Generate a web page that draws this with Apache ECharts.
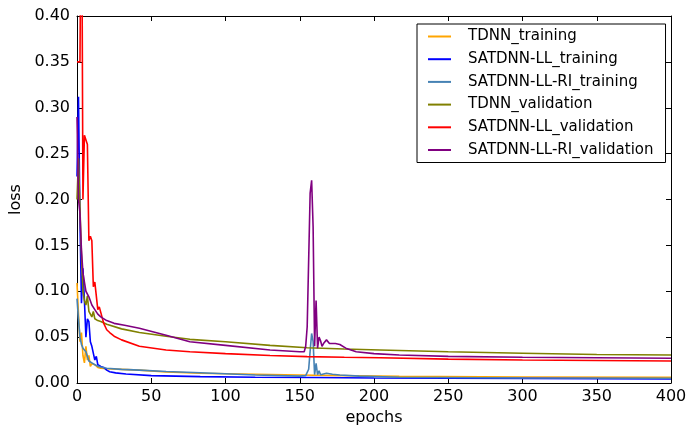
<!DOCTYPE html>
<html>
<head>
<meta charset="utf-8">
<script src="https://cdn.jsdelivr.net/npm/echarts@6/dist/echarts.min.js"></script>
<style>
html,body{margin:0;padding:0;background:#fff;}
#chart{width:689px;height:427px;}
</style>
</head>
<body>
<div id="chart"></div>
<script>
// ---------- data ----------
const xTicks = [0, 50, 100, 150, 200, 250, 300, 350, 400];
const yTicks = [0, 0.05, 0.10, 0.15, 0.20, 0.25, 0.30, 0.35, 0.40];

const seriesNames = ['TDNN_training', 'SATDNN-LL_training', 'SATDNN-LL-RI_training',
  'TDNN_validation', 'SATDNN-LL_validation', 'SATDNN-LL-RI_validation'];

const tdnnTrainEpochs = [0,1,2,3,4,5,6,7,8,9,10,11,12,14,16,20,30,42,60,83,120,160,217,300,400];
const tdnnTrainLoss   = [0.109,0.075,0.045,0.055,0.030,0.022,0.040,0.025,0.030,0.018,0.021,0.019,0.020,0.017,0.016,0.0155,0.0148,0.014,0.012,0.0106,0.0095,0.0085,0.0072,0.0066,0.0062];

const llTrainEpochs = [0,1,2,3,4,5,6,7,8,9,10,11,12,13,14,15,16,18,20,22,26,33,50,83,120,160,200,300,400];
const llTrainLoss   = [0.225,0.312,0.178,0.087,0.125,0.090,0.050,0.070,0.067,0.045,0.040,0.042,0.025,0.029,0.020,0.022,0.018,0.017,0.014,0.0123,0.011,0.0098,0.008,0.0069,0.0062,0.006,0.0055,0.005,0.0045];

const riTrainEpochs = [0,1,2,3,4,6,8,10,12,15,20,30,42,60,83,120,150,154,156,157,158,159,160,161,162,163,164,165,168,172,177,190,217,300,400];
const riTrainLoss   = [0.092,0.069,0.050,0.042,0.038,0.034,0.024,0.022,0.020,0.0178,0.016,0.0148,0.014,0.0125,0.0112,0.0088,0.0075,0.008,0.015,0.035,0.054,0.045,0.009,0.0214,0.009,0.0134,0.009,0.010,0.0106,0.0095,0.0087,0.0075,0.0062,0.0055,0.0051];

const tdnnValEpochs = [0,1,2,3,4,5,6,7,8,9,10,11,12,13,14,16,20,30,42,60,76,100,130,155,180,204,250,300,350,400];
const tdnnValLoss   = [0.200,0.245,0.190,0.140,0.100,0.090,0.085,0.095,0.078,0.080,0.072,0.078,0.070,0.072,0.068,0.067,0.064,0.059,0.055,0.051,0.0476,0.045,0.041,0.0385,0.037,0.036,0.034,0.0325,0.031,0.0305];

const llValEpochs = [0,1,2,3,4,5,6,7,8,9,10,11,12,13,14,15,16,18,20,22,25,30,42,60,76,100,130,155,180,204,250,300,350,400];
const llValLoss   = [0.35,0.35,0.35,0.60,0.20,0.27,0.272,0.26,0.155,0.16,0.155,0.105,0.11,0.112,0.08,0.083,0.077,0.065,0.058,0.055,0.051,0.047,0.040,0.036,0.034,0.032,0.030,0.0287,0.028,0.0275,0.026,0.025,0.0245,0.024];

const riValEpochs = [0,1,2,3,4,5,6,8,10,12,14,16,20,25,32,42,60,76,100,130,150,153,154,155,156,157,158,159,160,161,162,163,164,165,166,168,170,174,177,181,188,200,217,250,300,350,400];
const riValLoss   = [0.29,0.20,0.185,0.145,0.12,0.11,0.10,0.094,0.085,0.08,0.075,0.072,0.068,0.065,0.063,0.0596,0.052,0.045,0.041,0.036,0.034,0.034,0.040,0.061,0.134,0.207,0.221,0.17,0.04,0.09,0.038,0.05,0.046,0.04,0.043,0.047,0.043,0.043,0.042,0.038,0.034,0.032,0.0305,0.029,0.028,0.0275,0.027];

const seriesColors = ['#ffa500', '#0000ff', '#4682b4', '#808000', '#ff0000', '#800080'];
// ---------------------------------------------------

const zip = (xs, ys) => xs.map((x, i) => [x, ys[i]]);
const allData = [
  zip(tdnnTrainEpochs, tdnnTrainLoss),
  zip(llTrainEpochs, llTrainLoss),
  zip(riTrainEpochs, riTrainLoss),
  zip(tdnnValEpochs, tdnnValLoss),
  zip(llValEpochs, llValLoss),
  zip(riValEpochs, riValLoss)
];

const FONT = 'DejaVu Sans';
const chart = echarts.init(document.getElementById('chart'), null, {renderer: 'canvas'});

const xBase = {
  type: 'value', min: xTicks[0], max: xTicks[xTicks.length - 1],
  interval: xTicks[1] - xTicks[0],
  splitLine: {show: false},
  axisLine: {show: true, onZero: false, lineStyle: {color: '#000', width: 1}},
  axisTick: {show: true, inside: true, length: 5, lineStyle: {color: '#000', width: 1}}
};
const yBase = {
  type: 'value', min: yTicks[0], max: yTicks[yTicks.length - 1],
  interval: 0.05,
  splitLine: {show: false},
  axisLine: {show: true, onZero: false, lineStyle: {color: '#000', width: 1}},
  axisTick: {show: true, inside: true, length: 5, lineStyle: {color: '#000', width: 1}}
};

chart.setOption({
  animation: false,
  backgroundColor: '#fff',
  textStyle: {fontFamily: FONT},
  grid: {left: 77, right: 18, top: 16, bottom: 44, containLabel: false, outerBoundsMode: 'none'},
  xAxis: [
    Object.assign({}, xBase, {
      position: 'bottom',
      name: 'epochs', nameLocation: 'middle', nameGap: 27,
      nameTextStyle: {fontFamily: FONT, fontSize: 16, color: '#000'},
      axisLabel: {show: true, fontFamily: FONT, fontSize: 16, color: '#000', margin: 6}
    }),
    Object.assign({}, xBase, {position: 'top', axisLabel: {show: false}})
  ],
  yAxis: [
    Object.assign({}, yBase, {
      position: 'left',
      name: 'loss', nameLocation: 'middle', nameGap: 40, nameRotate: 90,
      nameTextStyle: {fontFamily: FONT, fontSize: 16, color: '#000'},
      axisLabel: {show: true, fontFamily: FONT, fontSize: 16, color: '#000', margin: 7,
        formatter: v => v.toFixed(2)}
    }),
    Object.assign({}, yBase, {position: 'right', axisLabel: {show: false}})
  ],
  legend: {
    show: true,
    orient: 'vertical',
    left: 417, top: 24,
    padding: [5, 12, 5, 11],
    borderColor: '#000', borderWidth: 1,
    backgroundColor: '#fff',
    itemGap: 7.7,
    itemWidth: 23, itemHeight: 2,
    icon: 'rect',
    textStyle: {fontFamily: FONT, fontSize: 15, color: '#000', lineHeight: 15, padding: [0, 0, 0, 12]},
    data: seriesNames
  },
  series: seriesNames.map((name, i) => ({
    name: name,
    type: 'line',
    xAxisIndex: 0, yAxisIndex: 0,
    data: allData[i],
    showSymbol: false,
    symbol: 'none',
    clip: true,
    color: seriesColors[i],
    lineStyle: {color: seriesColors[i], width: 1.6},
    emphasis: {disabled: true}
  }))
});
</script>
</body>
</html>
